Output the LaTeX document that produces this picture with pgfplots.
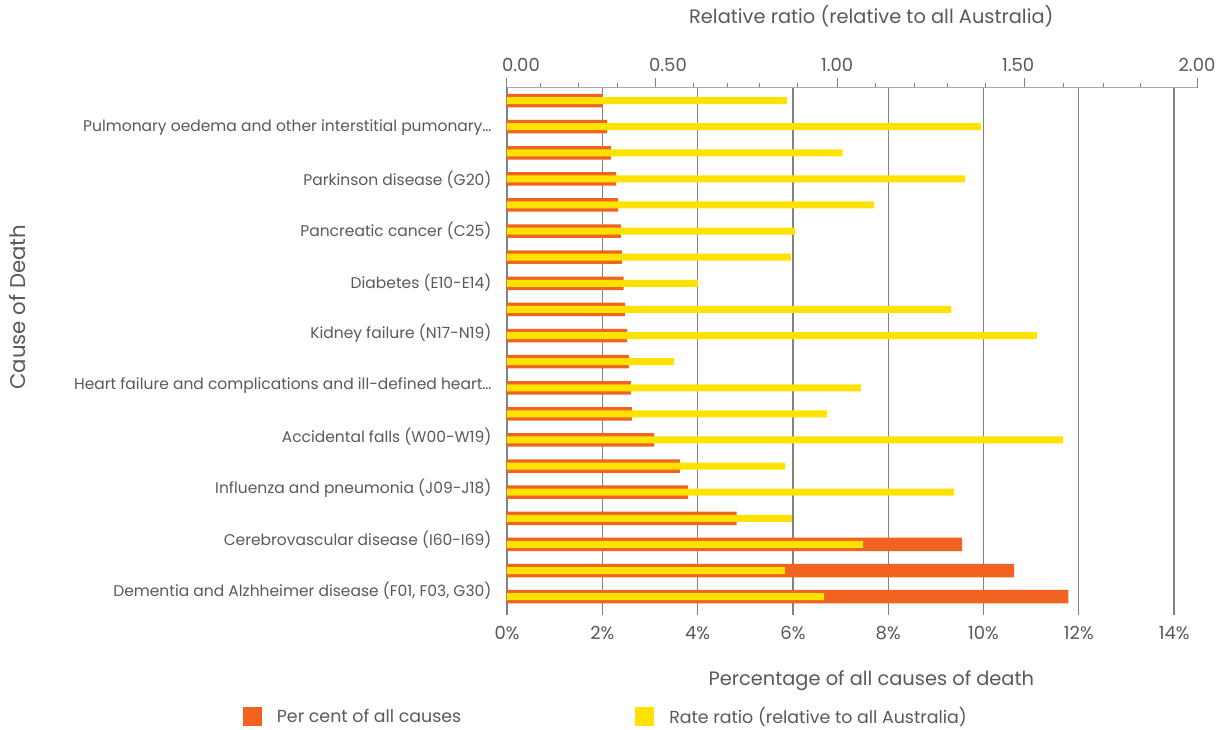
\documentclass[border=0pt]{standalone}
\usepackage{pgfplots}
\usepackage{pgfplotstable}
\pgfplotsset{compat=1.18}
\usepackage{fontspec}
\setmainfont{Poppins}
\definecolor{barorange}{RGB}{242,99,34}
\definecolor{baryellow}{RGB}{255,226,0}
\definecolor{txt}{RGB}{89,89,89}
\definecolor{gridc}{RGB}{130,130,130}
\definecolor{axc}{RGB}{170,170,170}

\pgfplotstableread{
y pct ratio
20 2.01 0.811
19 2.10 1.374
18 2.18 0.973
17 2.29 1.328
16 2.33 1.064
15 2.39 0.835
14 2.41 0.823
13 2.45 0.553
12 2.48 1.287
11 2.52 1.536
10 2.56 0.484
9 2.60 1.026
8 2.62 0.928
7 3.09 1.612
6 3.63 0.806
5 3.80 1.296
4 4.82 0.826
3 9.55 1.032
2 10.64 0.806
1 11.78 0.919
}\data

\begin{document}
\begin{tikzpicture}
\useasboundingbox (-507pt,-124pt) rectangle (714pt,605pt);
\begin{axis}[
  scale only axis, width=690pt, height=517pt,
  xmin=0, xmax=14.48, ymin=0.68, ymax=20.48,
  xbar, bar width=13.5pt,
  axis x line*=bottom, axis y line*=left,
  x axis line style={draw=none},
  y axis line style={draw=gridc, line width=1.3pt, -},
  xtick={0,2,...,14},
  xticklabels={0\%,2\%,4\%,6\%,8\%,10\%,12\%,14\%},
  xmajorgrids, grid style={gridc, line width=1.3pt},
  tick align=outside, major tick length=10pt,
  xtick style={gridc, line width=1.3pt},
  ytick={1.24,3.19,5.14,7.13,9.08,11.07,13.02,15.01,16.96,18.95},
  yticklabels={{Dementia and Alzhheimer disease (F01, F03, G30)},
    {Cerebrovascular disease (I60-I69)},
    {Influenza and pneumonia (J09-J18)},
    {Accidental falls (W00-W19)},
    {Heart failure and complications and ill-defined heart…},
    {Kidney failure (N17-N19)},
    {Diabetes (E10-E14)},
    {Pancreatic cancer (C25)},
    {Parkinson disease (G20)},
    {Pulmonary oedema and other interstitial pumonary…}},
  ytick style={draw=none},
  /pgf/number format/assume math mode=true,
  xticklabel style={font=\fontsize{18}{21}\selectfont, text=txt, yshift=-8pt},
  yticklabel style={font=\fontsize{15.5}{18}\selectfont, text=txt, xshift=-2pt},
  xlabel={Percentage of all causes of death},
  xlabel style={at={(axis description cs:0.528,-0.147)}, anchor=center,
    font=\fontsize{19.4}{23}\selectfont, text=txt},
  ylabel={Cause of Death},
  ylabel style={at={(axis description cs:-0.709,0.576)}, anchor=center,
    font=\fontsize{21.3}{25}\selectfont, text=txt},
]
\addplot[fill=barorange, draw=none] table[x=pct, y=y] {\data};
\end{axis}
\begin{axis}[
  scale only axis, width=690pt, height=517pt,
  xmin=0, xmax=2, ymin=0.68, ymax=20.48,
  xbar, bar width=7pt,
  axis x line*=top, hide y axis,
  x axis line style={draw=axc, line width=1pt, -},
  xtick={0,0.429,0.957,1.499,2},
  xticklabels={\hspace*{28pt}0.00,\hspace*{26pt}0.50,1.00,1.50\hspace*{12pt},2.00},
  minor xtick={0.098,0.206,0.319,0.542,0.638,0.733,0.843,1.067,1.180,1.278,1.386,1.612,1.728,1.835},
  tick align=outside, major tick length=10pt, minor tick length=5pt,
  xtick style={gridc, line width=1pt},
  /pgf/number format/assume math mode=true,
  xticklabel style={font=\fontsize{18}{21}\selectfont, text=txt, yshift=3pt},
  xlabel={Relative ratio (relative to all Australia)},
  xlabel style={at={(axis description cs:0.528,1.139)}, anchor=center,
    font=\fontsize{19.4}{23}\selectfont, text=txt},
  legend image code/.code={\fill[#1] (0pt,-9.5pt) rectangle (19pt,9.5pt);},
  legend columns=2,
  legend style={at={(axis description cs:-0.383,-0.215)}, anchor=west,
    draw=none, fill=none, inner sep=0pt,
    font=\fontsize{17.4}{20}\selectfont, text=txt,
    nodes={inner sep=0pt},
    /tikz/every odd column/.append style={column sep=15pt},
    /tikz/every even column/.append style={column sep=174pt}},
]
\addlegendimage{fill=barorange, draw=none}
\addlegendentry{Per cent of all causes}
\addplot[fill=baryellow, draw=none] table[x=ratio, y=y] {\data};
\addlegendentry{Rate ratio (relative to all Australia)}
\end{axis}
\end{tikzpicture}
\end{document}
